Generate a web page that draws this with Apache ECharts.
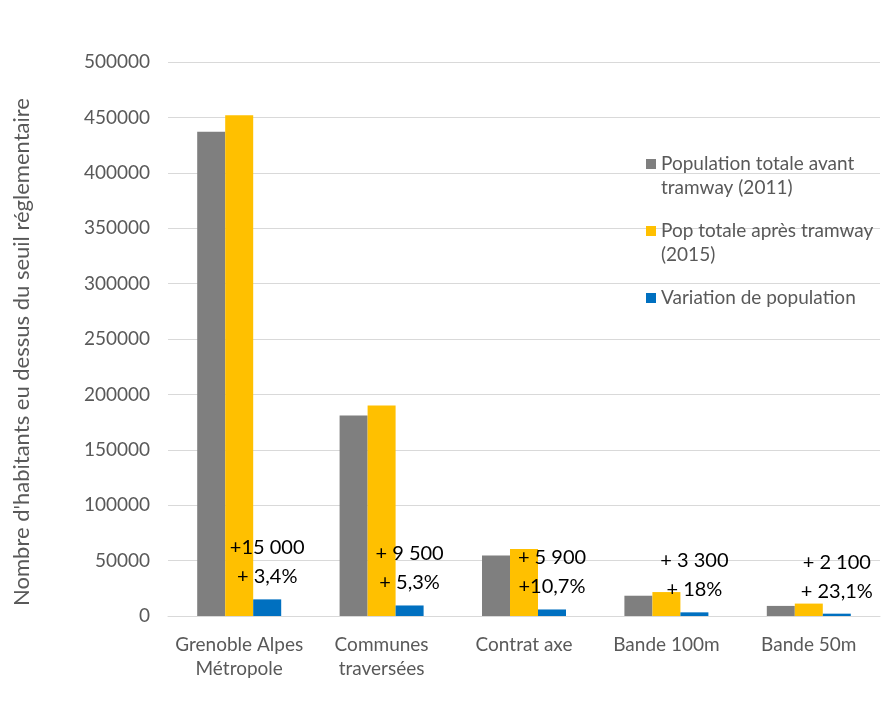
<!DOCTYPE html>
<html>
<head>
<meta charset="utf-8">
<script src="https://cdn.jsdelivr.net/npm/echarts@6/dist/echarts.min.js"></script>
<style>
  html, body { margin: 0; padding: 0; background: #fff; }
  #chart { width: 882px; height: 701px; }
</style>
</head>
<body>
<div id="chart"></div>
<script>
const categories = ['Grenoble Alpes\nMétropole', 'Communes\ntraversées', 'Contrat axe', 'Bande 100m', 'Bande 50m']
const seriesNames = ['Population totale avant tramway (2011)', 'Pop totale après tramway (2015)', 'Variation de population']
// leading / trailing blank lines keep the legend icon level with the first text line
const legendLabels = ['\nPopulation totale avant\ntramway (2011)', '\nPop totale après tramway\n(2015)', '\nVariation de population\n']
const popBefore = [437000, 181000, 54500, 18300, 9100]
const popAfter = [452000, 190000, 60500, 21600, 11200]
const variation = [15000, 9500, 5900, 3300, 2100]
const variationText = ['+15 000', '+ 9 500', '+ 5 900', '+ 3 300', '+ 2 100']
const variationPct = ['+ 3,4%', '+ 5,3%', '+10,7%', '+ 18%', '+ 23,1%']

const font = 'Lato'
const chart = echarts.init(document.getElementById('chart'))

const option = {
  animation: false,
  textStyle: { fontFamily: font },
  grid: { left: 168, right: 2, top: 62, bottom: 85 },
  legend: {
    orient: 'vertical',
    left: 641,
    top: 123,
    itemWidth: 10,
    itemHeight: 10,
    itemGap: -5,
    icon: 'rect',
    textStyle: { fontSize: 19, color: '#595959', lineHeight: 24, fontFamily: font },
    data: seriesNames,
    formatter: name => legendLabels[seriesNames.indexOf(name)]
  },
  xAxis: {
    type: 'category',
    data: categories,
    axisTick: { show: false },
    axisLine: { lineStyle: { color: '#d9d9d9', width: 1 } },
    axisLabel: { color: '#595959', fontSize: 19, lineHeight: 24, margin: 17, interval: 0 }
  },
  yAxis: {
    type: 'value',
    min: 0,
    max: 500000,
    interval: 50000,
    name: "Nombre d'habitants eu dessus du seuil réglementaire",
    nameLocation: 'middle',
    nameGap: 135,
    nameTextStyle: { color: '#595959', fontSize: 22, padding: [0, 26, 0, 0] },
    axisLabel: { color: '#595959', fontSize: 19, margin: 18, formatter: v => String(v) },
    splitLine: { lineStyle: { color: '#d9d9d9', width: 1 } }
  },
  series: [
    {
      name: seriesNames[0],
      type: 'bar',
      data: popBefore,
      barWidth: 28,
      barGap: '0%',
      itemStyle: { color: '#7f7f7f' }
    },
    {
      name: seriesNames[1],
      type: 'bar',
      data: popAfter,
      barWidth: 28,
      barGap: '0%',
      itemStyle: { color: '#ffc000' }
    },
    {
      name: seriesNames[2],
      type: 'bar',
      data: variation,
      barWidth: 28,
      barGap: '0%',
      itemStyle: { color: '#0070c0' },
      label: {
        show: true,
        position: 'top',
        distance: 8,
        color: '#000',
        fontSize: 20,
        lineHeight: 29,
        fontFamily: font,
        formatter: p => variationText[p.dataIndex] + '\n' + variationPct[p.dataIndex]
      }
    }
  ]
}

chart.setOption(option)
</script>
</body>
</html>
